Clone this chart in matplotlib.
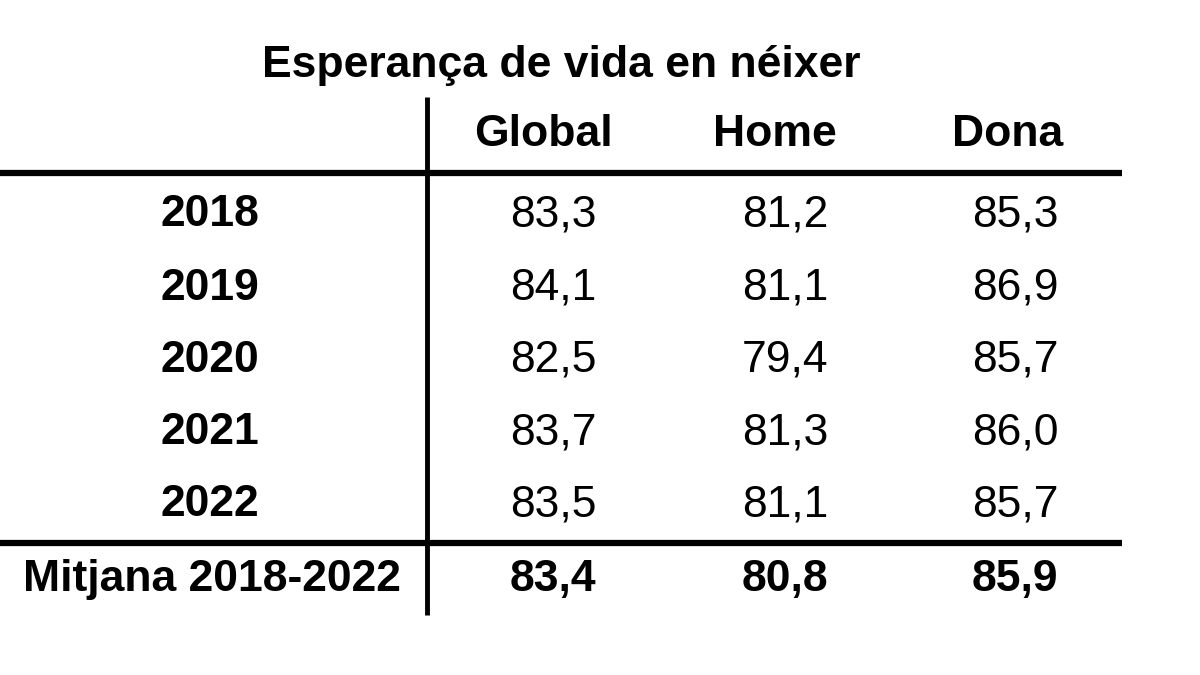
import matplotlib
matplotlib.use("Agg")
import matplotlib.pyplot as plt

title = "Esperança de vida en néixer"
columns = ["Global", "Home", "Dona"]
years = ["2018", "2019", "2020", "2021", "2022"]
global_v = ["83,3", "84,1", "82,5", "83,7", "83,5"]
home_v = ["81,2", "81,1", "79,4", "81,3", "81,1"]
dona_v = ["85,3", "86,9", "85,7", "86,0", "85,7"]
mean_label = "Mitjana 2018-2022"
mean_v = ["83,4", "80,8", "85,9"]

plt.rcParams['font.family'] = ['Liberation Sans', 'DejaVu Sans']
fig = plt.figure(figsize=(12, 6.75), dpi=100)
ax = fig.add_axes([0, 0, 1, 1])
ax.set_xlim(0, 1200); ax.set_ylim(675, 0); ax.axis('off')

ax.text(561, 66, title, ha='center', va='center', fontsize=32, fontweight='bold')
col_x = [543, 775, 1008]
val_x = [553, 785, 1015]
for x, c in zip(col_x, columns):
    ax.text(x, 135, c, ha='center', va='center', fontsize=32, fontweight='bold')
row_y = [215, 288, 360, 433, 505]
for i, y in enumerate(row_y):
    ax.text(210, y, years[i], ha='center', va='center', fontsize=32, fontweight='bold')
    for x, vals in zip(val_x, [global_v, home_v, dona_v]):
        ax.text(x, y, vals[i], ha='center', va='center', fontsize=32)
ax.text(212, 580, mean_label, ha='center', va='center', fontsize=32, fontweight='bold')
for x, v in zip(val_x, mean_v):
    ax.text(x, 580, v, ha='center', va='center', fontsize=32, fontweight='bold')

ax.plot([0, 1122], [173, 173], color='black', lw=4.5, solid_capstyle='butt')
ax.plot([0, 1122], [543, 543], color='black', lw=4.5, solid_capstyle='butt')
ax.plot([427, 427], [97, 615], color='black', lw=3.5, solid_capstyle='butt')
fig.savefig("out.png", dpi=100, facecolor='white')
